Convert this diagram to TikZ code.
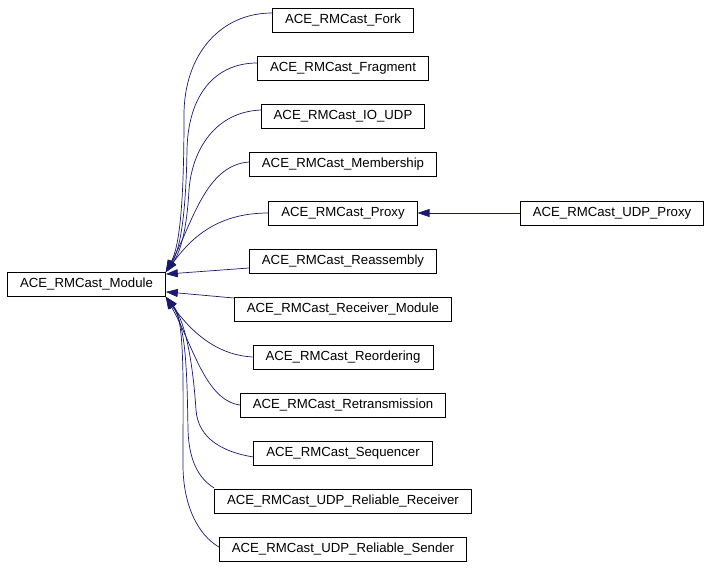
\documentclass[tikz,border=0pt]{standalone}
\usepackage{fontspec}
\setmainfont{Liberation Sans}
\usetikzlibrary{arrows.meta}
\definecolor{edgeblue}{RGB}{25,25,112}

\begin{document}
\begin{tikzpicture}[x=1pt, y=-1pt,
  cls/.style = {draw, line width = 0.8, minimum height = 24, inner xsep = 12.5, inner ysep = 0,
                font = \fontsize{13.2}{15}\selectfont},
  edge/.style = {draw = edgeblue, line width = 0.7, -{Triangle[length=12pt, width=8pt]}}]
\useasboundingbox (0, 0) rectangle (711, 567);

\node[cls] (module) at (86.5, 284.5) {ACE\_RMCast\_Module};

\node[cls] (fork)  at (343, 20)  {ACE\_RMCast\_Fork};
\node[cls] (frag)  at (343, 68)  {ACE\_RMCast\_Fragment};
\node[cls] (ioudp) at (343, 116) {ACE\_RMCast\_IO\_UDP};
\node[cls] (memb)  at (343, 164) {ACE\_RMCast\_Membership};
\node[cls] (proxy) at (343, 213) {ACE\_RMCast\_Proxy};
\node[cls] (reas)  at (343, 261) {ACE\_RMCast\_Reassembly};
\node[cls] (recv)  at (343, 309) {ACE\_RMCast\_Receiver\_Module};
\node[cls] (reord) at (343, 357) {ACE\_RMCast\_Reordering};
\node[cls] (retr)  at (343, 405) {ACE\_RMCast\_Retransmission};
\node[cls] (seq)   at (343, 453) {ACE\_RMCast\_Sequencer};
\node[cls] (urecv) at (343, 501) {ACE\_RMCast\_UDP\_Reliable\_Receiver};
\node[cls] (usend) at (343, 549) {ACE\_RMCast\_UDP\_Reliable\_Sender};

\node[cls] (udpproxy) at (612, 213) {ACE\_RMCast\_UDP\_Proxy};

% upper bundle
\draw[edge] ([yshift=7pt]fork.west) .. controls (220, 13) and (184, 55) .. (184, 115)
  .. controls (184, 200) and (180, 245) .. (module.north east);
\draw[edge] ([yshift=5pt]frag.west) .. controls (215, 63) and (188, 95) .. (187, 150)
  .. controls (186, 210) and (181, 248) .. (module.north east);
\draw[edge] ([yshift=6pt]ioudp.west) .. controls (215, 112) and (192, 150) .. (189, 190)
  .. controls (187, 225) and (182, 250) .. (module.north east);
\draw[edge] ([yshift=2pt]memb.west) .. controls (205, 165) and (192, 225) .. (module.north east);
\draw[edge] (proxy.west) .. controls (215, 213) and (190, 240) .. (module.north east);
\draw[edge] ([yshift=-7pt]reas.west) -- ([yshift=-2pt]module.north east);

% lower bundle
\draw[edge] ([yshift=11pt]recv.west) -- ([yshift=5pt]module.south east);
\draw[edge] (reord.west) .. controls (215, 355) and (190, 330) .. (module.south east);
\draw[edge] (retr.west) .. controls (205, 400) and (193, 345) .. (module.south east);
\draw[edge] ([yshift=-4pt]seq.west) .. controls (222, 452) and (198, 438) .. (196, 410)
  .. controls (193, 365) and (186, 322) .. (module.south east);
\draw[edge] ([yshift=13pt]urecv.west) .. controls (198, 478) and (189, 460) .. (188, 430)
  .. controls (187, 370) and (186, 325) .. (module.south east);
\draw[edge] ([yshift=2pt]usend.west) .. controls (198, 535) and (183, 505) .. (183, 465)
  .. controls (183, 380) and (185, 320) .. (module.south east);

\draw[edge] (udpproxy.west) -- (proxy.east);

\end{tikzpicture}
\end{document}
